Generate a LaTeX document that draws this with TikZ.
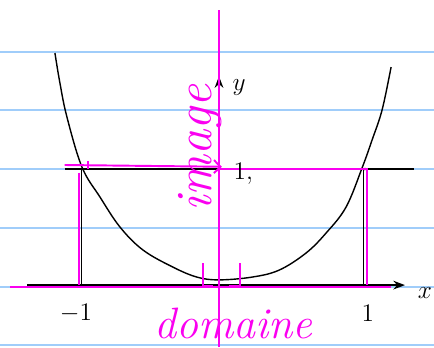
\documentclass[tikz,border=0pt]{standalone}
\usetikzlibrary{arrows.meta}

\definecolor{ligne}{RGB}{160,205,250}
\definecolor{rose}{RGB}{250,0,240}

\begin{document}
\begin{tikzpicture}[x=2.86cm,y=2.32cm,
  axe/.style={black,line width=0.8pt},
  marque/.style={rose,line width=1.1pt},
  etiquette/.style={font=\itshape\Large},
  texte/.style={rose,font=\itshape\fontsize{25}{25}\selectfont}]

\useasboundingbox (-1.531,-0.534) rectangle (1.503,2.457);

% lignes du cahier
\foreach \y in {2.009,1.509,1.0,0.491,-0.017,-0.517}
{
\draw[ligne,line width=0.9pt] (-1.531,\y) -- (1.503,\y);
}

% axes
\draw[axe,-{Stealth}] (-1.34,0) -- (1.30,0);
\draw[axe,-{Stealth}] (0,-0.28) -- (0,1.8);

% parabole
\draw[axe] plot[smooth,tension=0.6] coordinates {
(-1.147,2.00)
(-1.112,1.741)
(-1.063,1.448)
(-0.958,1.017)
(-0.832,0.759)
(-0.692,0.500)
(-0.531,0.302)
(-0.322,0.155)
(-0.154,0.069)
(0,0.045)
(0.231,0.069)
(0.420,0.129)
(0.608,0.276)
(0.748,0.448)
(0.888,0.672)
(1.0,1.009)
(1.07,1.25)
(1.14,1.509)
(1.203,1.879)
};

% droite y = 1 et verticales
\draw[axe] (-1.08,1) -- (1.36,1);
\draw[axe] (-0.96,1) -- (-0.96,0);
\draw[axe] (1.01,1) -- (1.01,0);
\fill (1.02,1) circle (0.8pt);
\fill (0,1) circle (0.8pt);

% image et domaine
\draw[marque] (0,-0.534) -- (0,2.37);
\draw[marque] (-1.46,-0.015) -- (1.2,-0.015);
\draw[marque,-{Straight Barb}] (-1.08,1.035) -- (0.02,1.02);
\draw[marque] (0,1) -- (1.035,1) -- (1.035,0);
\draw[marque] (-0.98,0.97) -- (-0.98,0);
\draw[marque] (-0.916,1.07) -- (-0.916,1.0);
\draw[marque] (-0.11,0.19) -- (-0.11,-0.01) -- (-0.04,-0.01);
\draw[marque] (0.15,0.19) -- (0.15,-0.01) -- (0.07,-0.01);

% textes
\node[etiquette] (lx) at (1.44,-0.07) {$x$};
\node[etiquette] (ly) at (0.14,1.70) {$y$};
\node[etiquette] (moinsun) at (-1.0,-0.24) {$-1$};
\node[etiquette] (un) at (1.04,-0.24) {$1$};
\node[etiquette] (unY) at (0.17,0.96) {$1,$};
\node[texte] (domaine) at (0.1,-0.33) {domaine};
\node[texte,rotate=90,font=\itshape\fontsize{29}{29}\selectfont] (image) at (-0.13,1.18) {image};

\end{tikzpicture}
\end{document}
